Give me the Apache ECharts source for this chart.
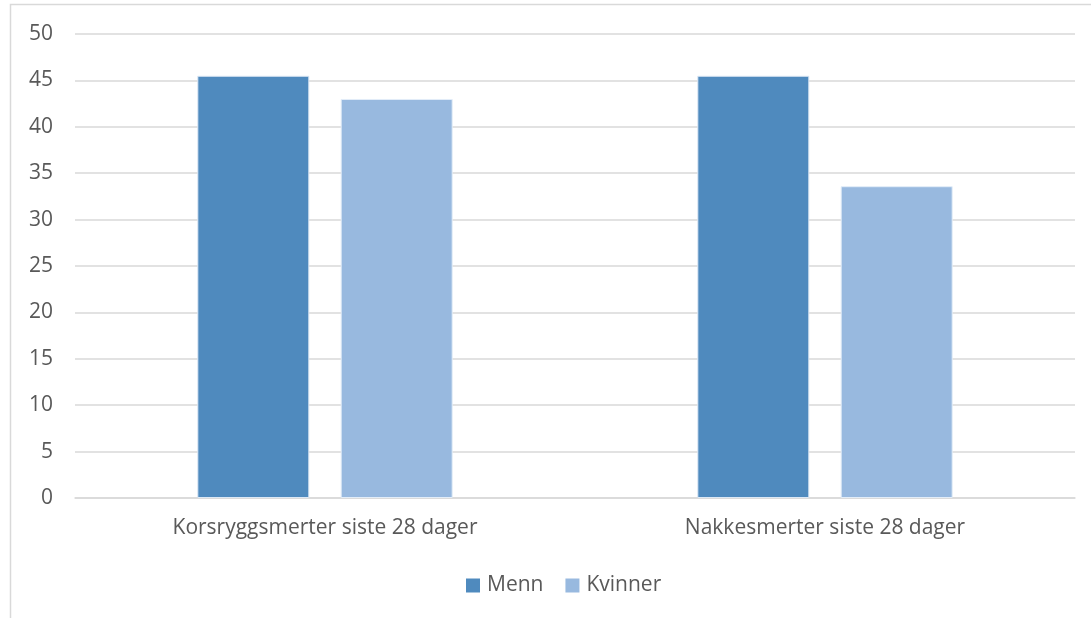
<!DOCTYPE html>
<html>
<head>
<meta charset="utf-8">
<script src="https://cdn.jsdelivr.net/npm/echarts@6/dist/echarts.min.js"></script>
<style>html,body{margin:0;padding:0;background:#fff;}#c{width:1091px;height:618px;}</style>
</head>
<body>
<div id="c"></div>
<script>
const categories = ['Korsryggsmerter siste 28 dager', 'Nakkesmerter siste 28 dager'];
const menn = [45.5, 45.5];
const kvinner = [43.0, 33.6];
const seriesNames = ['Menn', 'Kvinner'];

const chart = echarts.init(document.getElementById('c'));
const font = '"Open Sans", sans-serif';
chart.setOption({
  animation: false,
  backgroundColor: '#fff',
  graphic: [{
    type: 'rect', silent: true,
    shape: { x: 10.5, y: 4.5, width: 1100, height: 640 },
    style: { fill: 'none', stroke: '#D9D9D9', lineWidth: 1.5 }
  }],
  grid: { left: 75, right: 16, top: 34, bottom: 120, containLabel: false },
  legend: {
    top: 570, left: 461,
    itemWidth: 14, itemHeight: 14, itemGap: 22,
    icon: 'rect',
    itemStyle: { borderWidth: 0 },
    textStyle: { color: '#595959', fontSize: 21, fontFamily: font, padding: [0, 0, 0, 2] },
    data: seriesNames
  },
  xAxis: {
    type: 'category', data: categories,
    axisLine: { lineStyle: { color: '#D9D9D9', width: 1.5 } },
    axisTick: { show: false },
    axisLabel: { color: '#595959', fontSize: 21, fontFamily: font, margin: 20 }
  },
  yAxis: {
    type: 'value', min: 0, max: 50, interval: 5,
    axisLine: { show: false }, axisTick: { show: false },
    splitLine: { lineStyle: { color: '#D9D9D9', width: 1.5 } },
    axisLabel: { color: '#595959', fontSize: 21, fontFamily: font, margin: 22 }
  },
  series: [
    { name: seriesNames[0], type: 'bar', data: menn, barWidth: 112, barGap: '28%',
      itemStyle: { color: '#4F8ABE', borderColor: '#DCE8F5', borderWidth: 1 } },
    { name: seriesNames[1], type: 'bar', data: kvinner, barWidth: 112,
      itemStyle: { color: '#98B9DF', borderColor: '#E3EDF8', borderWidth: 1 } }
  ]
});
</script>
</body>
</html>
